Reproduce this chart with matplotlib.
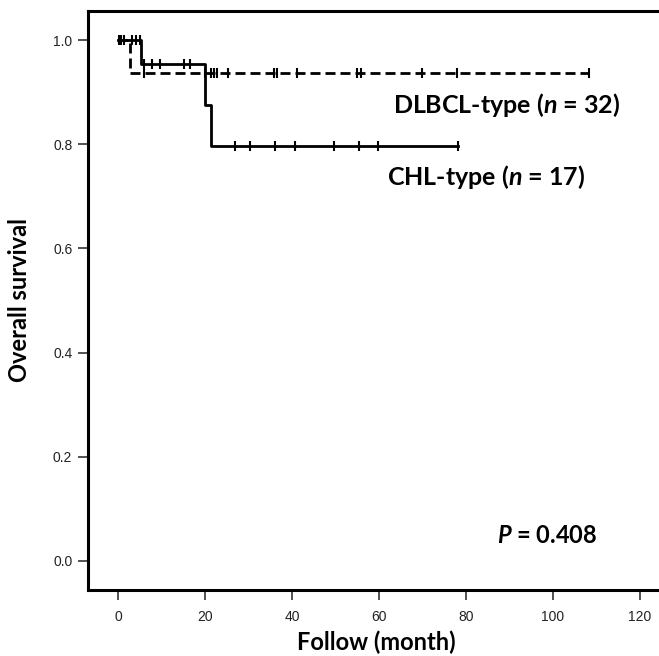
import matplotlib
matplotlib.use("Agg")
import matplotlib.pyplot as plt

# CHL-type (solid line): step curve and censor marks
chl_times = [0, 5.4, 20.1, 21.3, 78.2]
chl_surv = [1.0, 0.955, 0.875, 0.797, 0.797]
chl_cens_t = [0.8, 3.2, 4.2, 5.0,
              5.9, 7.8, 9.7, 15.1, 16.6,
              27.0, 30.4, 36.2, 40.8, 49.6, 55.5, 59.7, 78.2]
chl_cens_s = [1.0, 1.0, 1.0, 1.0,
              0.955, 0.955, 0.955, 0.955, 0.955,
              0.797, 0.797, 0.797, 0.797, 0.797, 0.797, 0.797, 0.797]

# DLBCL-type (dashed line)
dlbcl_times = [0, 2.7, 108.4]
dlbcl_surv = [1.0, 0.9375, 0.9375]
dlbcl_cens_t = [0.3, 1.3,
                6.0, 20.1, 21.3, 22.0, 22.8, 25.4, 35.8, 36.6, 41.1,
                55.0, 56.0, 69.9, 77.9, 108.4]
dlbcl_cens_s = [1.0, 1.0] + [0.9375] * 14

x_ticks = [0, 20, 40, 60, 80, 100, 120]
y_ticks = [0.0, 0.2, 0.4, 0.6, 0.8, 1.0]

plt.rcParams['mathtext.fontset'] = 'custom'
plt.rcParams['mathtext.it'] = 'Lato:italic:bold'
plt.rcParams['mathtext.bf'] = 'Lato:bold'

fig = plt.figure(figsize=(6.59, 6.56), dpi=100)
ax = fig.add_axes([0.134, 0.1006, 0.866, 0.8826])

ax.step(chl_times, chl_surv, where='post', color='black', lw=2.0)
ax.plot(chl_cens_t, chl_cens_s, ls='none', marker='|', ms=7.5, mew=1.5, color='black')

dl, = ax.step(dlbcl_times, dlbcl_surv, where='post', color='black', lw=2.0)
dl.set_dashes((3.6, 1.8))
ax.plot(dlbcl_cens_t, dlbcl_cens_s, ls='none', marker='|', ms=7.5, mew=1.5, color='black')

ax.set_xlim(-6.8, 124.4)
ax.set_ylim(-0.056, 1.056)
ax.set_xticks(x_ticks)
ax.set_yticks(y_ticks)
ax.set_yticklabels([f"{v:.1f}" for v in y_ticks])

for s in ['left', 'bottom', 'top']:
    ax.spines[s].set_linewidth(2.2)
ax.spines['right'].set_visible(False)
ax.tick_params(axis='both', length=7, width=1.1, labelsize=10, colors='#222222')
ax.tick_params(axis='y', pad=4.5)
ax.tick_params(axis='x', pad=7.5)
for lab in ax.get_xticklabels() + ax.get_yticklabels():
    lab.set_family('Liberation Sans')

bold = dict(family='Lato', fontweight='bold', color='black')
fig.text(0.5964, 0.8277, r"DLBCL-type ($n$ = 32)", fontsize=18, va='baseline', ha='left', **bold)
fig.text(0.5873, 0.718, r"CHL-type ($n$ = 17)", fontsize=18, va='baseline', ha='left', **bold)
fig.text(0.754, 0.1723, r"$P$ = 0.408", fontsize=17, va='baseline', ha='left', **bold)
fig.text(0.571, 0.0091, "Follow (month)", fontsize=17, va='baseline', ha='center', **bold)
fig.text(0.03, 0.543, "Overall survival", fontsize=17, va='center', ha='center', rotation=90, **bold)

fig.savefig("out.png", dpi=100)
